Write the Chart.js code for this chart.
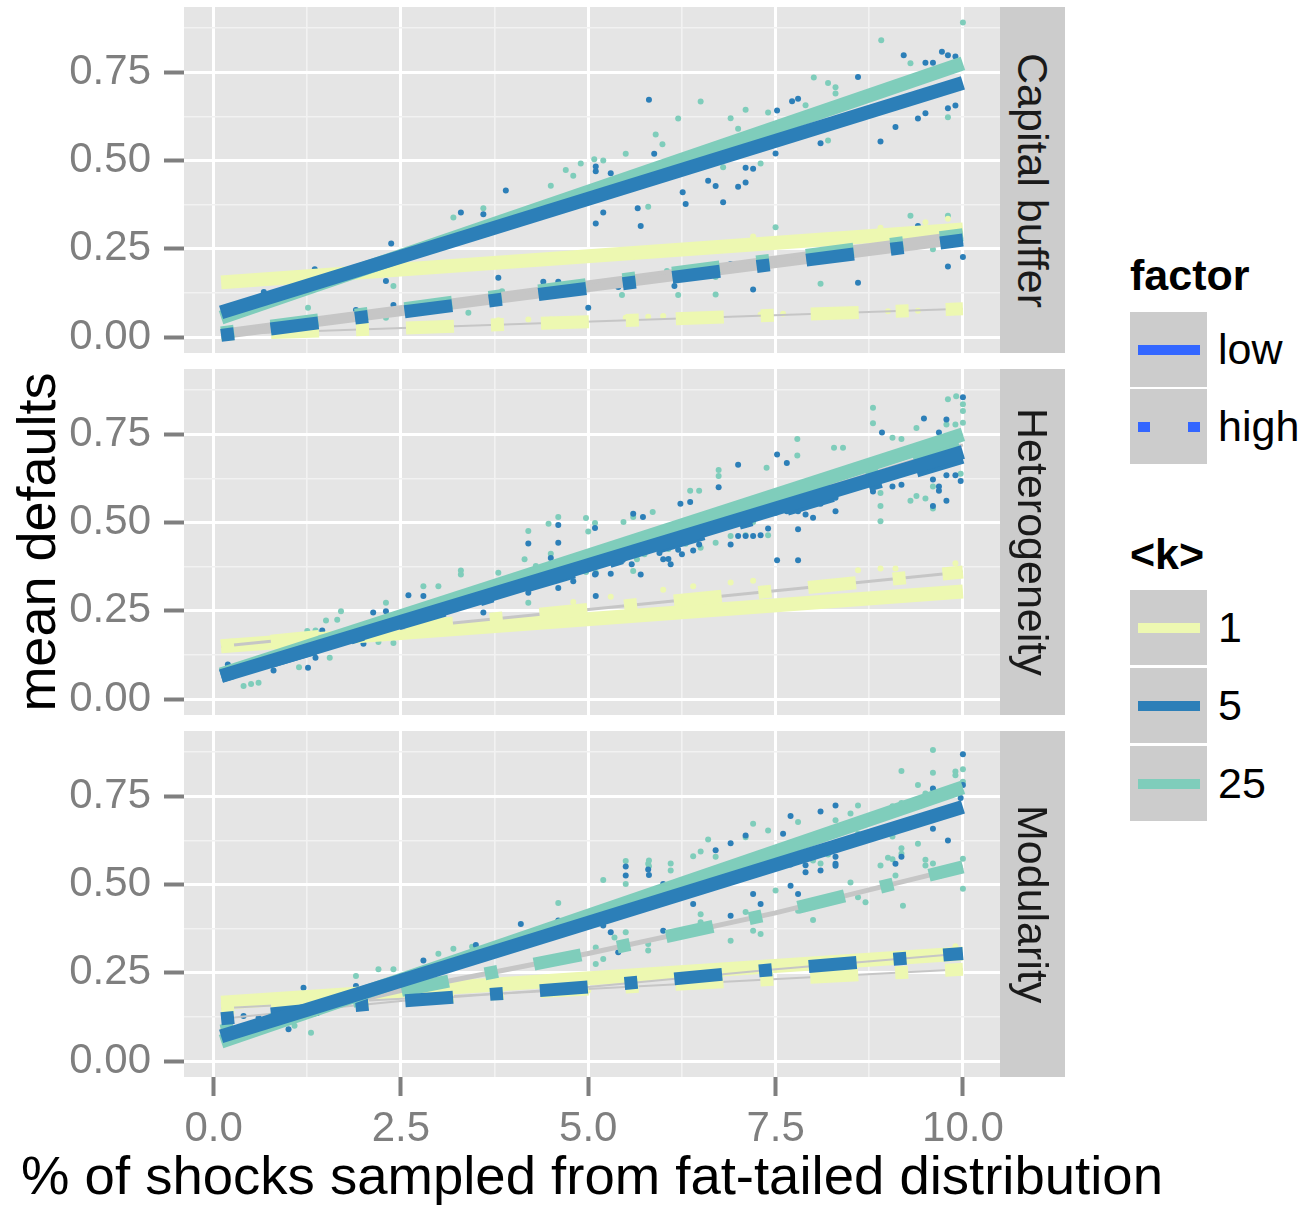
<!DOCTYPE html>
<html>
<head>
<meta charset="utf-8">
<script src="https://cdn.jsdelivr.net/npm/chart.js@4.4.1/dist/chart.umd.min.js"></script>
<style>
  html, body { margin: 0; padding: 0; background: #fff; }
  body { position: relative; width: 1310px; height: 1209px; overflow: hidden;
         font-family: "Liberation Sans", Arial, sans-serif; }
  canvas { position: absolute; left: 0; }
  .strip { position: absolute; left: 1000px; width: 65px; height: 346px; background: #CCCCCC;
           display: flex; align-items: center; justify-content: center; z-index: 2; }
  .strip span { writing-mode: vertical-rl; font-size: 43px; color: #1A1A1A; white-space: nowrap; }
  .ytitle { position: absolute; left: -189px; top: 515px; width: 450px; height: 54px; line-height: 54px;
            font-size: 54px; text-align: center; transform: rotate(-90deg); color: #000; white-space: nowrap; }
  .xtitle { position: absolute; left: 0; width: 1184px; top: 1149px; height: 54px; line-height: 54px;
            font-size: 54.5px; text-align: center; color: #000; white-space: nowrap; }
  .legTitle { position: absolute; left: 1130px; font-size: 43px; font-weight: bold; line-height: 43px; color: #000; }
  .key { position: absolute; left: 1130px; width: 77px; height: 75px; background: #CCCCCC; }
  .keyLabel { position: absolute; left: 1218px; height: 75px; display: flex; align-items: center;
              font-size: 43px; color: #000; }
  .seg { position: absolute; height: 10px; }
</style>
</head>
<body>
<canvas id="p0"></canvas>
<canvas id="p1"></canvas>
<canvas id="p2"></canvas>
<div id="strips"></div>
<div class="ytitle">mean defaults</div>
<div class="xtitle">% of shocks sampled from fat-tailed distribution</div>
<div id="legend"></div>
<script>
// axis breaks
const xMajor = [0, 2.5, 5, 7.5, 10];
const xMinor = [1.25, 3.75, 6.25, 8.75];
const yMajor = [0, 0.25, 0.5, 0.75];
const yMinor = [0.125, 0.375, 0.625, 0.875];

const facetLabels = ['Capital buffer', 'Heterogeneity', 'Modularity'];
const kLevels = ['1', '5', '25'];
const factorLevels = ['low', 'high'];

// Capital buffer: fitted lines [x, mean defaults]
const capLowK1 = [[0.1, 0.155], [10, 0.305]];
const capLowK5 = [[0.1, 0.07], [10, 0.72]];
const capLowK25 = [[0.1, 0.055], [10, 0.775]];
const capHighK1 = [[0.1, 0.008], [10, 0.08]];
const capHighK5 = [[0.1, 0.005], [10, 0.275]];
const capHighK25 = [[0.1, 0.012], [10, 0.29]];

// Heterogeneity
const hetLowK1 = [[0.1, 0.15], [10, 0.305]];
const hetLowK5 = [[0.1, 0.065], [10, 0.70]];
const hetLowK25 = [[0.1, 0.07], [10, 0.75]];
const hetHighK1 = [[0.1, 0.15], [10, 0.36]];
const hetHighK5 = [[0.1, 0.065], [10, 0.685]];
const hetHighK25 = [[0.1, 0.07], [10, 0.72]];

// Modularity
const modLowK1 = [[0.1, 0.165], [10, 0.305]];
const modLowK5 = [[0.1, 0.07], [10, 0.72]];
const modLowK25 = [[0.1, 0.055], [10, 0.775]];
const modHighK1 = [[0.1, 0.15], [10, 0.26]];
const modHighK5 = [[0.1, 0.12], [2.5, 0.17], [5, 0.21], [7.5, 0.26], [10, 0.305]];
const modHighK25 = [[0.1, 0.085], [2.5, 0.2], [5, 0.305], [7.5, 0.42], [10, 0.55]];

// raw runs (visible scatter)
const capPtsK1 = [[3.8, 0.048], [4.2, 0.05], [4.5, 0.05], [5.5, 0.055], [5.8, 0.058], [6.0, 0.06], [7.3, 0.064],
  [7.6, 0.066], [8.2, 0.07], [9.0, 0.073], [9.4, 0.075], [9.8, 0.335], [9.5, 0.325], [8.9, 0.31], [7.2, 0.285]];
const capPtsK5 = [[9.21, 0.798], [9.72, 0.808], [9.8, 0.798], [9.9, 0.795], [9.5, 0.777], [9.6, 0.777], [8.6, 0.737],
  [5.81, 0.672], [7.52, 0.642], [7.8, 0.675], [7.72, 0.668], [8.9, 0.554], [9.1, 0.595], [9.4, 0.619], [9.5, 0.634],
  [9.8, 0.648], [9.9, 0.656], [8.1, 0.549], [7.1, 0.438], [7.0, 0.426], [6.6, 0.443], [6.7, 0.428], [6.26, 0.41],
  [7.1, 0.48], [7.2, 0.477], [7.5, 0.52], [3.9, 0.415], [5.1, 0.483], [5.1, 0.47], [5.3, 0.464], [5.88, 0.519],
  [6.3, 0.377], [6.8, 0.382], [5.66, 0.365], [5.7, 0.315], [5.1, 0.322], [5.2, 0.353], [9.4, 0.315], [10.0, 0.227],
  [9.8, 0.2], [8.6, 0.154], [7.2, 0.135], [6.9, 0.207], [6.15, 0.145], [5.4, 0.142], [4.6, 0.157], [4.4, 0.157],
  [3.8, 0.168], [5.0, 0.083], [2.4, 0.091], [1.9, 0.077], [2.37, 0.265], [2.3, 0.159], [1.35, 0.192], [0.67, 0.128],
  [3.6, 0.348], [3.3, 0.353]];
const capPtsK25 = [[10.0, 0.891], [8.91, 0.841], [9.3, 0.776], [8.01, 0.735], [8.2, 0.72], [8.3, 0.708], [8.3, 0.69],
  [6.5, 0.667], [6.2, 0.619], [5.9, 0.574], [5.99, 0.546], [7.9, 0.657], [7.4, 0.636], [7.1, 0.644], [6.9, 0.62],
  [9.8, 0.623], [8.2, 0.557], [6.8, 0.481], [7.3, 0.492], [7.0, 0.59], [4.5, 0.429], [4.7, 0.473], [4.8, 0.457],
  [4.9, 0.492], [5.08, 0.504], [5.2, 0.5], [5.5, 0.519], [5.8, 0.369], [7.5, 0.311], [9.3, 0.344], [9.8, 0.344],
  [9.6, 0.249], [8.1, 0.151], [6.7, 0.121], [6.2, 0.119], [6.05, 0.187], [5.45, 0.119], [4.45, 0.142], [3.4, 0.069],
  [3.85, 0.13], [3.9, 0.11], [2.3, 0.055], [2.4, 0.145], [1.26, 0.083], [3.6, 0.365], [3.65, 0.292], [3.2, 0.339],
  [6.8, 0.192], [6.7, 0.17]];

const hetPtsK1 = [[6.0, 0.31], [6.4, 0.32], [6.9, 0.33], [7.2, 0.335], [8.6, 0.365], [8.9, 0.37], [9.1, 0.37],
  [9.9, 0.385], [5.3, 0.29], [4.8, 0.275]];
const hetPtsK5 = [[4.6, 0.443], [4.5, 0.4], [2.6, 0.294], [2.8, 0.292], [2.13, 0.245], [2.3, 0.249], [1.45, 0.194],
  [2.0, 0.157], [1.36, 0.117], [1.26, 0.089], [0.8, 0.081], [0.19, 0.098], [4.6, 0.315], [4.2, 0.301], [3.6, 0.245],
  [5.0, 0.371], [5.1, 0.355], [5.3, 0.355], [5.1, 0.292], [5.7, 0.353], [6.0, 0.396], [6.1, 0.382], [6.25, 0.41],
  [6.4, 0.421], [6.9, 0.438], [7.1, 0.462], [7.2, 0.462], [7.3, 0.464], [7.8, 0.393], [10, 0.855], [8.92, 0.755],
  [9.48, 0.795], [9.78, 0.792], [9.68, 0.755], [7.52, 0.693], [7.65, 0.669], [7.0, 0.664], [6.74, 0.6], [6.23, 0.553],
  [6.36, 0.558], [5.6, 0.525], [5.73, 0.516], [4.6, 0.493], [5.09, 0.485], [4.2, 0.441], [4.32, 0.358], [4.6, 0.357],
  [4.8, 0.334], [5.09, 0.353], [5.2, 0.41], [5.46, 0.394], [5.58, 0.382], [5.73, 0.419], [5.95, 0.414], [6.07, 0.397],
  [6.2, 0.423], [6.48, 0.438], [6.6, 0.478], [7.0, 0.462], [7.4, 0.483], [7.52, 0.393], [7.8, 0.481], [7.5, 0.528],
  [7.65, 0.532], [7.8, 0.532], [7.9, 0.523], [8.0, 0.514], [8.1, 0.553], [8.3, 0.532], [8.3, 0.57], [8.8, 0.588],
  [9.06, 0.602], [9.18, 0.607], [9.6, 0.622], [9.68, 0.602], [9.68, 0.59], [9.6, 0.547], [9.78, 0.634], [9.9, 0.634],
  [9.97, 0.618], [9.78, 0.562]];
const hetPtsK25 = [[5.0, 0.475], [4.15, 0.396], [4.5, 0.412], [3.8, 0.358], [2.8, 0.32], [3.0, 0.32], [3.3, 0.364],
  [3.3, 0.353], [2.3, 0.273], [1.7, 0.249], [1.5, 0.223], [1.65, 0.225], [1.36, 0.194], [1.25, 0.193], [2.2, 0.162],
  [2.4, 0.159], [1.55, 0.117], [1.14, 0.09], [0.4, 0.037], [0.5, 0.043], [0.6, 0.046], [4.2, 0.273], [3.5, 0.277],
  [5.1, 0.358], [5.6, 0.363], [5.65, 0.396], [5.75, 0.41], [6.5, 0.429], [6.7, 0.443], [7.4, 0.464], [9.91, 0.858],
  [9.8, 0.849], [10, 0.835], [10, 0.816], [10, 0.783], [8.8, 0.825], [8.8, 0.781], [9.06, 0.74], [9.18, 0.737],
  [9.38, 0.768], [9.78, 0.778], [9.9, 0.778], [7.79, 0.737], [8.28, 0.712], [8.4, 0.712], [7.79, 0.69], [7.38, 0.655],
  [6.74, 0.649], [6.74, 0.632], [6.36, 0.59], [6.48, 0.59], [5.86, 0.53], [5.6, 0.516], [5.47, 0.502], [4.97, 0.513],
  [4.6, 0.516], [4.47, 0.497], [5.09, 0.499], [4.2, 0.476], [4.3, 0.377], [4.97, 0.36], [5.2, 0.388], [6.07, 0.425],
  [6.3, 0.44], [6.9, 0.462], [7.1, 0.464], [7.2, 0.502], [8.9, 0.547], [8.9, 0.504], [8.9, 0.584], [9.3, 0.562],
  [9.38, 0.575], [9.5, 0.568], [9.6, 0.602], [9.97, 0.638], [9.6, 0.54]];

const modPtsK1 = [[8.6, 0.29], [9.0, 0.29], [9.5, 0.3], [9.9, 0.325], [4.5, 0.21], [5.0, 0.2], [2.3, 0.19], [1.8, 0.185]];
const modPtsK5 = [[10, 0.869], [10, 0.782], [9.6, 0.772], [9.97, 0.745], [8.3, 0.724], [8.1, 0.707], [7.7, 0.694],
  [7.6, 0.644], [7.1, 0.639], [6.9, 0.617], [6.7, 0.597], [5.5, 0.551], [5.5, 0.526], [5.8, 0.543], [9.6, 0.658],
  [9.8, 0.625], [9.18, 0.579], [8.3, 0.579], [8.3, 0.553], [7.9, 0.555], [7.7, 0.557], [7.6, 0.56], [7.4, 0.546],
  [5.81, 0.527], [6.0, 0.502], [4.6, 0.398], [4.1, 0.388], [5.2, 0.384], [5.3, 0.365], [5.4, 0.308], [6.0, 0.369],
  [6.4, 0.445], [6.9, 0.412], [7.2, 0.473], [7.3, 0.445], [7.7, 0.497], [7.8, 0.473], [7.9, 0.535], [8.1, 0.54],
  [8.3, 0.559], [9.1, 0.559], [3.5, 0.329], [2.8, 0.285], [1.2, 0.208], [1.9, 0.213], [1.0, 0.09], [0.4, 0.128],
  [0.6, 0.123]];
const modPtsK25 = [[9.6, 0.881], [10, 0.827], [10, 0.791], [9.18, 0.822], [9.9, 0.82], [9.9, 0.81], [9.6, 0.817],
  [9.4, 0.782], [9.5, 0.758], [9.6, 0.769], [9.06, 0.722], [9.18, 0.731], [9.3, 0.731], [8.6, 0.724], [8.5, 0.701],
  [8.3, 0.682], [7.8, 0.677], [7.2, 0.672], [7.4, 0.653], [7.1, 0.634], [6.6, 0.628], [6.5, 0.594], [6.4, 0.58],
  [5.5, 0.567], [5.8, 0.559], [8.6, 0.644], [8.6, 0.625], [9.06, 0.636], [9.4, 0.616], [9.18, 0.603], [9.18, 0.587],
  [9.0, 0.576], [9.06, 0.572], [8.1, 0.56], [8.2, 0.585], [7.7, 0.585], [9.5, 0.57], [9.6, 0.56], [10, 0.573],
  [5.81, 0.568], [5.81, 0.552], [6.1, 0.56], [6.1, 0.54], [6.7, 0.579], [5.2, 0.513], [5.5, 0.502], [4.6, 0.448],
  [4.5, 0.374], [5.35, 0.35], [5.1, 0.322], [5.1, 0.275], [5.2, 0.289], [5.5, 0.365], [5.8, 0.332], [5.8, 0.313],
  [6.3, 0.36], [6.5, 0.416], [6.5, 0.393], [6.9, 0.341], [7.1, 0.422], [7.5, 0.483], [7.2, 0.369], [7.3, 0.36],
  [7.8, 0.426], [8.0, 0.568], [8.5, 0.506], [8.9, 0.554], [9.1, 0.526], [9.2, 0.44], [10.0, 0.488], [9.5, 0.554],
  [9.7, 0.526], [8.6, 0.464], [8.7, 0.45], [8.0, 0.4], [3.45, 0.324], [3.0, 0.304], [3.2, 0.318], [2.2, 0.26],
  [2.4, 0.26], [1.9, 0.241], [1.08, 0.1], [1.3, 0.08]];

// colours per <k> level, in kLevels order
const kColors = ['#EDF8B1', '#2C7FB8', '#7FCDBB'];
const factorColor = '#3366FF';
const GREY_LINE = '#C6C6C6';
const HIGH_DASH = [13, 37, 48, 37];

const panels = [
  { low: [capLowK1, capLowK5, capLowK25], high: [capHighK1, capHighK5, capHighK25],
    pts: [capPtsK1, capPtsK5, capPtsK25], greyWidth: [2, 8, 8] },
  { low: [hetLowK1, hetLowK5, hetLowK25], high: [hetHighK1, hetHighK5, hetHighK25],
    pts: [hetPtsK1, hetPtsK5, hetPtsK25], greyWidth: [3, 3, 3] },
  { low: [modLowK1, modLowK5, modLowK25], high: [modHighK1, modHighK5, modHighK25],
    pts: [modPtsK1, modPtsK5, modPtsK25], greyWidth: [2, 2, 5] }
];

Chart.defaults.font.family = '"Liberation Sans", Arial, sans-serif';

const PANEL_TOP = 7, PANEL_H = 346, PANEL_GAP = 16, PANEL_LEFT = 184, PANEL_RIGHT = 1000;

const near = (v, list) => list.some(m => Math.abs(m - v) < 1e-9);

// grey panel background, drawn under the grid
const panelBg = {
  id: 'panelBg',
  beforeDraw(chart) {
    const { ctx, chartArea: a } = chart;
    ctx.save();
    ctx.fillStyle = '#E5E5E5';
    ctx.fillRect(a.left, a.top, a.right - a.left, a.bottom - a.top);
    ctx.restore();
  }
};

const toXY = arr => arr.map(([x, y]) => ({ x: x, y: y }));

// drawing stack, lower order = on top: k=5 over k=25 over dashed over k=1
const lowOrder = [9, 1, 2];
const highOrder = [7, 3, 4];
const greyOrder = [8, 5, 6];

function buildDatasets(p) {
  const ds = [];
  p.pts.forEach((arr, i) => {
    ds.push({ data: toXY(arr), showLine: false, pointRadius: 3, pointHoverRadius: 0,
      pointBackgroundColor: kColors[i], pointBorderWidth: 0, order: 20 + i });
  });
  p.high.forEach((arr, i) => {
    ds.push({ data: toXY(arr), showLine: true, borderColor: GREY_LINE, borderWidth: p.greyWidth[i],
      pointRadius: 0, borderCapStyle: 'butt', order: greyOrder[i] });
    ds.push({ data: toXY(arr), showLine: true, borderColor: kColors[i], borderWidth: 13, borderDash: HIGH_DASH,
      pointRadius: 0, borderCapStyle: 'butt', order: highOrder[i] });
  });
  p.low.forEach((arr, i) => {
    ds.push({ data: toXY(arr), showLine: true, borderColor: kColors[i], borderWidth: 14,
      pointRadius: 0, borderCapStyle: 'butt', order: lowOrder[i] });
  });
  return ds;
}

function makePanel(idx) {
  const showX = idx === panels.length - 1;
  const canvas = document.getElementById('p' + idx);
  const top = PANEL_TOP + idx * (PANEL_H + PANEL_GAP) - 7;
  const xAxisH = showX ? 132 : 7;
  const w = 1020, h = 7 + PANEL_H + xAxisH;
  canvas.width = w; canvas.height = h;
  canvas.style.top = top + 'px';
  canvas.style.width = w + 'px'; canvas.style.height = h + 'px';

  const xGrid = xMajor.concat(xMinor).sort((a, b) => a - b);
  const yGrid = yMajor.concat(yMinor).sort((a, b) => a - b);

  new Chart(canvas.getContext('2d'), {
    type: 'scatter',
    data: { datasets: buildDatasets(panels[idx]) },
    plugins: [panelBg],
    options: {
      responsive: false,
      maintainAspectRatio: false,
      animation: false,
      events: [],
      layout: { padding: { top: 7, right: w - PANEL_RIGHT, left: 0, bottom: 0 } },
      plugins: { legend: { display: false }, tooltip: { enabled: false } },
      scales: {
        x: {
          type: 'linear', min: -0.395, max: 10.495,
          afterBuildTicks: s => { s.ticks = xGrid.map(v => ({ value: v })); },
          afterFit: s => { s.height = xAxisH; s.paddingLeft = 0; s.paddingRight = 0; },
          border: { display: false },
          grid: {
            color: c => near(c.tick.value, xMajor) ? '#FFFFFF' : '#F2F2F2',
            lineWidth: c => near(c.tick.value, xMajor) ? 3 : 1.6,
            tickColor: c => near(c.tick.value, xMajor) ? '#7F7F7F' : 'rgba(0,0,0,0)',
            tickLength: 19, tickWidth: 4, drawTicks: showX
          },
          ticks: {
            display: showX, autoSkip: false, maxRotation: 0, padding: 8,
            color: '#7F7F7F', font: { size: 42 },
            callback: v => near(v, xMajor) ? v.toFixed(1) : ''
          }
        },
        y: {
          type: 'linear', min: -0.045, max: 0.935,
          afterBuildTicks: s => { s.ticks = yGrid.map(v => ({ value: v })); },
          afterFit: s => { s.width = PANEL_LEFT; s.paddingTop = 0; s.paddingBottom = 0; },
          border: { display: false },
          grid: {
            color: c => near(c.tick.value, yMajor) ? '#FFFFFF' : '#F2F2F2',
            lineWidth: c => near(c.tick.value, yMajor) ? 3 : 1.6,
            tickColor: c => near(c.tick.value, yMajor) ? '#7F7F7F' : 'rgba(0,0,0,0)',
            tickLength: 20, tickWidth: 4
          },
          ticks: {
            autoSkip: false, padding: 13, color: '#7F7F7F', font: { size: 42 },
            callback: v => near(v, yMajor) ? v.toFixed(2) : ''
          }
        }
      }
    }
  });
}

// facet strips
function drawStrips() {
  const host = document.getElementById('strips');
  facetLabels.forEach((label, i) => {
    const d = document.createElement('div');
    d.className = 'strip';
    d.style.top = (PANEL_TOP + i * (PANEL_H + PANEL_GAP)) + 'px';
    const s = document.createElement('span');
    s.textContent = label;
    d.appendChild(s);
    host.appendChild(d);
  });
}

// legends: factor (linetype) and <k> (colour)
function drawLegend() {
  const host = document.getElementById('legend');
  const add = (cls, css, text) => {
    const d = document.createElement('div');
    d.className = cls;
    Object.assign(d.style, css);
    if (text !== undefined) d.textContent = text;
    host.appendChild(d);
    return d;
  };
  const seg = (top, left, width, color) => add('seg', { top: top + 'px', left: left + 'px', width: width + 'px', background: color });

  add('legTitle', { top: '254px' }, 'factor');
  const factorTops = [312, 389];
  factorLevels.forEach((lev, i) => {
    const t = factorTops[i];
    add('key', { top: t + 'px' });
    if (lev === 'low') {
      seg(t + 33, 1138, 62, factorColor);
    } else {
      seg(t + 33, 1138, 12, factorColor);
      seg(t + 33, 1188, 12, factorColor);
    }
    add('keyLabel', { top: t + 'px' }, lev);
  });

  add('legTitle', { top: '533px' }, '<k>');
  const kTops = [590, 668, 746];
  kLevels.forEach((lev, i) => {
    const t = kTops[i];
    add('key', { top: t + 'px' });
    seg(t + 33, 1138, 62, kColors[i]);
    add('keyLabel', { top: t + 'px' }, lev);
  });
}

panels.forEach((p, i) => makePanel(i));
drawStrips();
drawLegend();
</script>
</body>
</html>
